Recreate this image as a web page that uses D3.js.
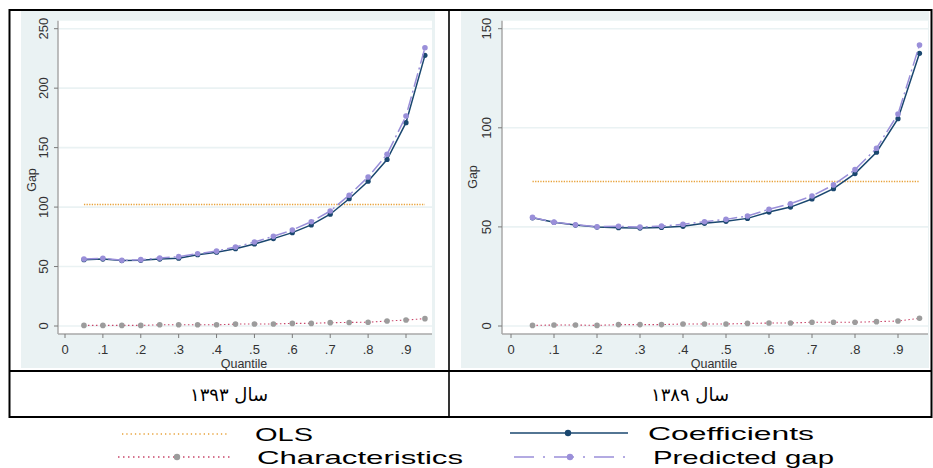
<!DOCTYPE html>
<html>
<head>
<meta charset="utf-8">
<script src="https://cdn.jsdelivr.net/npm/d3@7"></script>
<style>
  html, body { margin: 0; padding: 0; background: #ffffff; }
  svg { display: block; }
</style>
</head>
<body>
<svg id="chart" width="933" height="468"></svg>
<script>
// ---------------- DATA ----------------
const quantiles = [0.05, 0.10, 0.15, 0.20, 0.25, 0.30, 0.35, 0.40, 0.45, 0.50,
                   0.55, 0.60, 0.65, 0.70, 0.75, 0.80, 0.85, 0.90, 0.95];

// Panel 1: year 1393
const coefficients1393   = [55.8, 56.3, 55.0, 55.2, 56.3, 57.0, 60.0, 62.0, 65.0, 69.0,
                            73.5, 78.5, 85.0, 94.0, 107.0, 121.7, 140.0, 171.0, 227.6];
const predictedGap1393   = [56.3, 57.0, 55.2, 55.8, 57.2, 58.3, 60.8, 63.0, 66.4, 70.6,
                            75.4, 80.7, 87.7, 96.7, 110.0, 125.3, 144.4, 176.6, 234.0];
const characteristics1393 = [0.5, 0.5, 0.5, 0.5, 1.0, 1.0, 1.0, 1.0, 1.6, 1.7,
                            1.7, 2.2, 2.2, 2.8, 3.0, 3.2, 4.2, 5.0, 6.2];
const ols1393 = 103.0;

// Panel 2: year 1389
const coefficients1389   = [54.6, 52.3, 50.9, 49.9, 49.6, 49.4, 49.7, 50.3, 51.8, 52.8,
                            54.3, 57.5, 60.0, 64.1, 69.3, 76.9, 87.7, 104.6, 137.6];
const predictedGap1389   = [54.8, 52.4, 51.1, 50.1, 50.3, 49.9, 50.4, 51.3, 52.6, 53.8,
                            55.5, 58.9, 61.7, 65.6, 71.2, 78.9, 89.7, 106.9, 141.8];
const characteristics1389 = [0.3, 0.5, 0.5, 0.3, 0.7, 0.7, 0.7, 1.0, 1.0, 1.0,
                            1.3, 1.5, 1.5, 1.9, 1.9, 1.9, 2.2, 2.5, 3.9];
const ols1389 = 73.2;

const xTicks = [0, 0.1, 0.2, 0.3, 0.4, 0.5, 0.6, 0.7, 0.8, 0.9];
const xTickLabels = ["0", ".1", ".2", ".3", ".4", ".5", ".6", ".7", ".8", ".9"];
const yTicks1393 = [0, 50, 100, 150, 200, 250];
const yTicks1389 = [0, 50, 100, 150];

const panelTitles = ["سال ۱۳۹۳", "سال ۱۳۸۹"];
const xAxisTitle = "Quantile";
const yAxisTitle = "Gap";
const legendLabels = ["OLS", "Coefficients", "Characteristics", "Predicted gap"];

// ---------------- STYLE / LAYOUT ----------------
const COL = {
  bg: "#eaf2f3",
  grid: "#eaf2f3",
  axis: "#a8a8a8",
  tick: "#7a7a7a",
  text: "#333333",
  ols: "#e8a23a",
  coef: "#1a476f",
  pred: "#9a8fd9",
  charLine: "#c8466a",
  charMarker: "#9c9c9c"
};

const panels = [
  {
    coef: coefficients1393, pred: predictedGap1393, chars: characteristics1393, ols: ols1393,
    yTicks: yTicks1393, yMax: 250,
    bg: {x: 21, y: 10, w: 414, h: 358},
    plot: {x0: 58, x1: 432, y0: 20.7, y1: 334},
    xRange: [65, 406], yRange: [326, 28.7],
    yLabelX: 43, gapX: 32, gapY: 180, quantX: 244
  },
  {
    coef: coefficients1389, pred: predictedGap1389, chars: characteristics1389, ols: ols1389,
    yTicks: yTicks1389, yMax: 150,
    bg: {x: 461, y: 10, w: 468, h: 358},
    plot: {x0: 502, x1: 928, y0: 20.7, y1: 334},
    xRange: [511, 898], yRange: [326, 28.7],
    yLabelX: 486.5, gapX: 473, gapY: 177, quantX: 714
  }
];

const svg = d3.select("#chart");
const FONT = "'Liberation Sans', Arial, Helvetica, sans-serif";

panels.forEach((p, pi) => {
  const g = svg.append("g");
  const x = d3.scaleLinear().domain([0, 0.9]).range(p.xRange);
  const y = d3.scaleLinear().domain([0, p.yMax]).range(p.yRange);

  // graph region background
  g.append("rect").attr("x", p.bg.x).attr("y", p.bg.y)
    .attr("width", p.bg.w).attr("height", p.bg.h).attr("fill", COL.bg);
  // plot region
  g.append("rect").attr("x", p.plot.x0).attr("y", p.plot.y0)
    .attr("width", p.plot.x1 - p.plot.x0).attr("height", p.plot.y1 - p.plot.y0)
    .attr("fill", "#ffffff");

  // gridlines
  g.selectAll(".grid").data(p.yTicks).enter().append("line")
    .attr("x1", p.plot.x0).attr("x2", p.plot.x1)
    .attr("y1", d => y(d)).attr("y2", d => y(d))
    .attr("stroke", COL.grid).attr("stroke-width", 1.6);

  // axes lines
  g.append("line").attr("x1", p.plot.x0).attr("x2", p.plot.x0)
    .attr("y1", p.plot.y0).attr("y2", p.plot.y1)
    .attr("stroke", COL.axis).attr("stroke-width", 1.5);
  g.append("line").attr("x1", p.plot.x0).attr("x2", p.plot.x1)
    .attr("y1", p.plot.y1).attr("y2", p.plot.y1)
    .attr("stroke", COL.axis).attr("stroke-width", 1.5);

  // y ticks
  g.selectAll(".yt").data(p.yTicks).enter().append("line")
    .attr("x1", p.plot.x0 - 4).attr("x2", p.plot.x0)
    .attr("y1", d => y(d)).attr("y2", d => y(d))
    .attr("stroke", COL.tick).attr("stroke-width", 1);
  g.selectAll(".ytl").data(p.yTicks).enter().append("text")
    .attr("transform", d => `translate(${p.yLabelX},${y(d)}) rotate(-90)`)
    .attr("text-anchor", "middle").attr("dy", "0.35em")
    .attr("font-family", FONT).attr("font-size", 13).attr("fill", COL.text)
    .text(d => d);

  // x ticks
  g.selectAll(".xt").data(xTicks).enter().append("line")
    .attr("x1", d => x(d)).attr("x2", d => x(d))
    .attr("y1", p.plot.y1).attr("y2", p.plot.y1 + 4)
    .attr("stroke", COL.tick).attr("stroke-width", 1);
  g.selectAll(".xtl").data(xTicks).enter().append("text")
    .attr("x", d => x(d)).attr("y", 354)
    .attr("text-anchor", "middle")
    .attr("font-family", FONT).attr("font-size", 13).attr("fill", COL.text)
    .text((d, i) => xTickLabels[i]);

  // axis titles
  g.append("text").attr("x", p.quantX).attr("y", 367.5)
    .attr("text-anchor", "middle").attr("font-family", FONT)
    .attr("font-size", 12.5).attr("fill", COL.text).text(xAxisTitle);
  g.append("text")
    .attr("transform", `translate(${p.gapX},${p.gapY}) rotate(-90)`)
    .attr("text-anchor", "middle").attr("dy", "0.35em").attr("font-family", FONT)
    .attr("font-size", 12.5).attr("fill", COL.text).text(yAxisTitle);

  const line = vals => d3.line().x((d, i) => x(quantiles[i])).y(d => y(d))(vals);

  // OLS
  g.append("line")
    .attr("x1", x(quantiles[0])).attr("x2", x(quantiles[quantiles.length - 1]))
    .attr("y1", Math.round(y(p.ols)) + 0.5).attr("y2", Math.round(y(p.ols)) + 0.5)
    .attr("stroke", COL.ols).attr("stroke-width", 1.3)
    .attr("stroke-dasharray", "1.3,1.3");

  // Coefficients
  g.append("path").attr("d", line(p.coef)).attr("fill", "none")
    .attr("stroke", COL.coef).attr("stroke-width", 1.5);
  g.selectAll(".cm").data(p.coef).enter().append("circle")
    .attr("cx", (d, i) => x(quantiles[i])).attr("cy", d => y(d))
    .attr("r", 2.6).attr("fill", COL.coef);

  // Characteristics
  g.append("path").attr("d", line(p.chars)).attr("fill", "none")
    .attr("stroke", COL.charLine).attr("stroke-width", 1.1)
    .attr("stroke-dasharray", "1.5,2.5");
  g.selectAll(".chm").data(p.chars).enter().append("circle")
    .attr("cx", (d, i) => x(quantiles[i])).attr("cy", d => y(d))
    .attr("r", 2.8).attr("fill", COL.charMarker);

  // Predicted gap
  g.append("path").attr("d", line(p.pred)).attr("fill", "none")
    .attr("stroke", COL.pred).attr("stroke-width", 1.5)
    .attr("stroke-dasharray", "14,4,2,4");
  g.selectAll(".pm").data(p.pred).enter().append("circle")
    .attr("cx", (d, i) => x(quantiles[i])).attr("cy", d => y(d))
    .attr("r", 2.8).attr("fill", COL.pred);
});

// ---------------- TABLE FRAME ----------------
const frame = svg.append("g").attr("stroke", "#000").attr("fill", "none");
frame.append("rect").attr("x", 9.5).attr("y", 10).attr("width", 922).attr("height", 407)
  .attr("stroke-width", 2);
frame.append("line").attr("x1", 9.5).attr("x2", 931.5).attr("y1", 371).attr("y2", 371)
  .attr("stroke-width", 2);
frame.append("line").attr("x1", 449).attr("x2", 449).attr("y1", 10).attr("y2", 417)
  .attr("stroke-width", 1.6);

// panel captions
const captionX = [229, 690];
panelTitles.forEach((t, i) => {
  svg.append("text").attr("x", captionX[i]).attr("y", 401)
    .attr("text-anchor", "middle").attr("direction", "rtl")
    .attr("font-family", "'DejaVu Sans', 'Noto Sans', sans-serif")
    .attr("font-size", 18).attr("fill", "#000").text(t);
});

// ---------------- LEGEND ----------------
const legendItems = [
  {label: legendLabels[0], lx0: 122, lx1: 227, ly: 434, tx: 255, tw: 58,
   stroke: COL.ols, dash: "1.3,3", width: 1.3, marker: null},
  {label: legendLabels[1], lx0: 510, lx1: 628, ly: 433, tx: 648, tw: 166,
   stroke: COL.coef, dash: null, width: 1.6, marker: COL.coef, mx: 568},
  {label: legendLabels[2], lx0: 118, lx1: 233, ly: 457, tx: 257, tw: 206,
   stroke: COL.charLine, dash: "1.5,3.5", width: 1.3, marker: COL.charMarker, mx: 177},
  {label: legendLabels[3], lx0: 514, lx1: 628, ly: 457, tx: 653, tw: 181,
   stroke: COL.pred, dash: "20,9,2,9", width: 1.5, marker: COL.pred, mx: 570}
];
const lg = svg.append("g");
legendItems.forEach(it => {
  lg.append("line").attr("x1", it.lx0).attr("x2", it.lx1)
    .attr("y1", it.ly).attr("y2", it.ly)
    .attr("stroke", it.stroke).attr("stroke-width", it.width)
    .attr("stroke-dasharray", it.dash);
  if (it.marker) {
    lg.append("circle").attr("cx", it.mx).attr("cy", it.ly).attr("r", 3.2)
      .attr("fill", it.marker);
  }
  lg.append("text").attr("x", it.tx).attr("y", it.ly).attr("dy", "0.36em")
    .attr("font-family", FONT).attr("font-size", 19).attr("fill", "#000")
    .attr("textLength", it.tw).attr("lengthAdjust", "spacingAndGlyphs")
    .text(it.label);
});
</script>
</body>
</html>
